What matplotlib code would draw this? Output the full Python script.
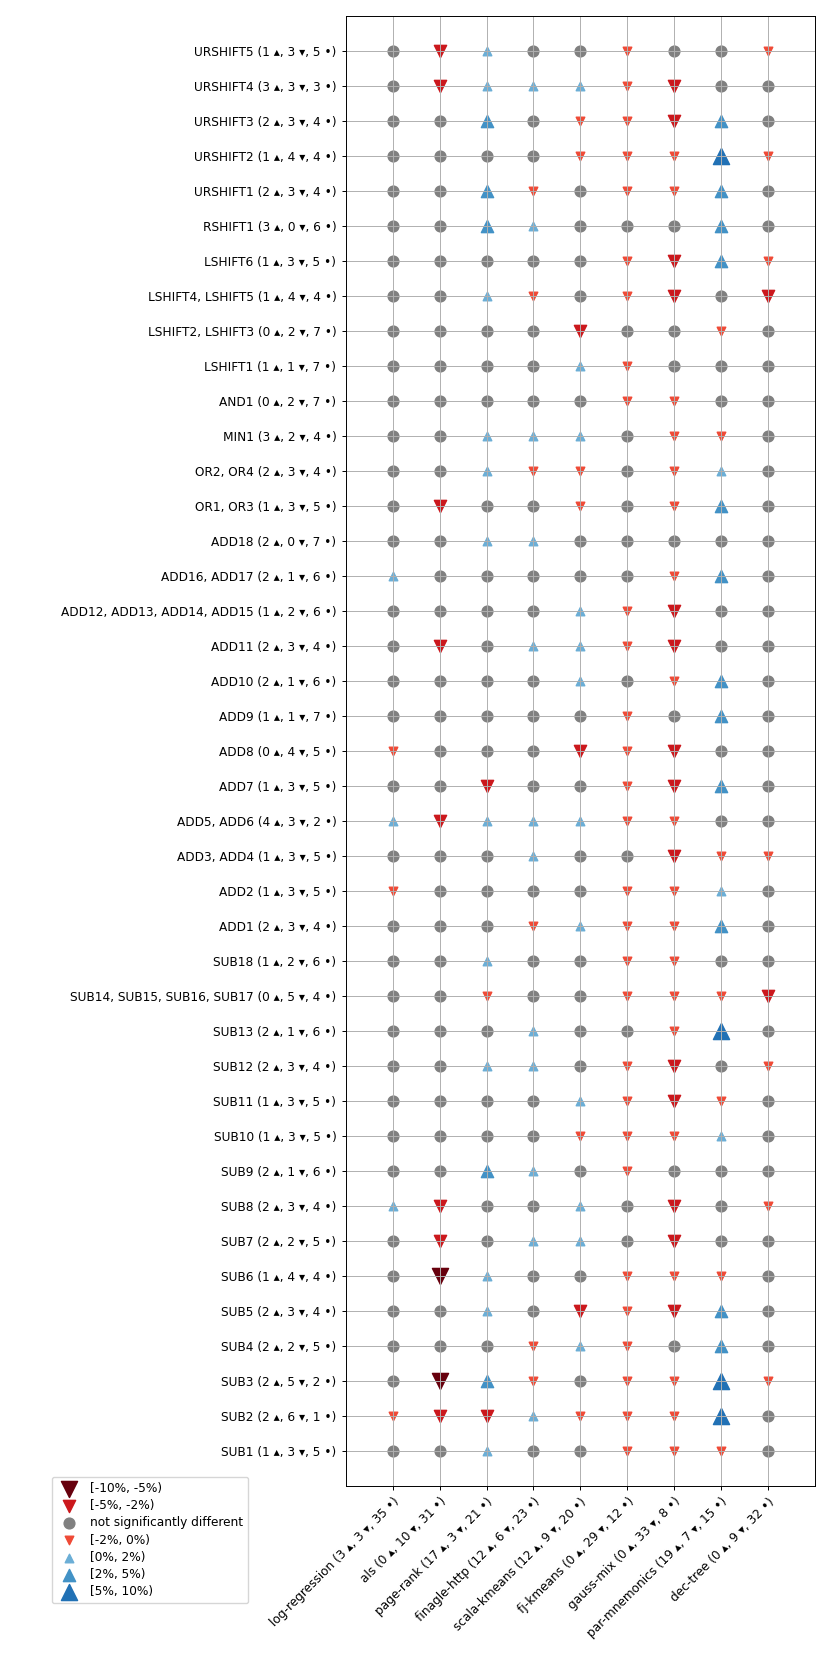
import numpy as np
import matplotlib.pyplot as plt

# === Data ===
benchmarks = ['log-regression', 'als', 'page-rank', 'finagle-http', 'scala-kmeans',
              'fj-kmeans', 'gauss-mix', 'par-mnemonics', 'dec-tree']

variants = ['URSHIFT5', 'URSHIFT4', 'URSHIFT3', 'URSHIFT2', 'URSHIFT1', 'RSHIFT1',
            'LSHIFT6', 'LSHIFT4, LSHIFT5', 'LSHIFT2, LSHIFT3', 'LSHIFT1', 'AND1', 'MIN1',
            'OR2, OR4', 'OR1, OR3', 'ADD18', 'ADD16, ADD17', 'ADD12, ADD13, ADD14, ADD15',
            'ADD11', 'ADD10', 'ADD9', 'ADD8', 'ADD7', 'ADD5, ADD6', 'ADD3, ADD4', 'ADD2',
            'ADD1', 'SUB18', 'SUB14, SUB15, SUB16, SUB17', 'SUB13', 'SUB12', 'SUB11',
            'SUB10', 'SUB9', 'SUB8', 'SUB7', 'SUB6', 'SUB5', 'SUB4', 'SUB3', 'SUB2', 'SUB1']

# change class per cell: -3 [-10%,-5%), -2 [-5%,-2%), -1 [-2%,0%), 0 n.s.,
# 1 [0%,2%), 2 [2%,5%), 3 [5%,10%)
levels = [
    [0, -2, 1, 0, 0, -1, 0, 0, -1],
    [0, -2, 1, 1, 1, -1, -2, 0, 0],
    [0, 0, 2, 0, -1, -1, -2, 2, 0],
    [0, 0, 0, 0, -1, -1, -1, 3, -1],
    [0, 0, 2, -1, 0, -1, -1, 2, 0],
    [0, 0, 2, 1, 0, 0, 0, 2, 0],
    [0, 0, 0, 0, 0, -1, -2, 2, -1],
    [0, 0, 1, -1, 0, -1, -2, 0, -2],
    [0, 0, 0, 0, -2, 0, 0, -1, 0],
    [0, 0, 0, 0, 1, -1, 0, 0, 0],
    [0, 0, 0, 0, 0, -1, -1, 0, 0],
    [0, 0, 1, 1, 1, 0, -1, -1, 0],
    [0, 0, 1, -1, -1, 0, -1, 1, 0],
    [0, -2, 0, 0, -1, 0, -1, 2, 0],
    [0, 0, 1, 1, 0, 0, 0, 0, 0],
    [1, 0, 0, 0, 0, 0, -1, 2, 0],
    [0, 0, 0, 0, 1, -1, -2, 0, 0],
    [0, -2, 0, 1, 1, -1, -2, 0, 0],
    [0, 0, 0, 0, 1, 0, -1, 2, 0],
    [0, 0, 0, 0, 0, -1, 0, 2, 0],
    [-1, 0, 0, 0, -2, -1, -2, 0, 0],
    [0, 0, -2, 0, 0, -1, -2, 2, 0],
    [1, -2, 1, 1, 1, -1, -1, 0, 0],
    [0, 0, 0, 1, 0, 0, -2, -1, -1],
    [-1, 0, 0, 0, 0, -1, -1, 1, 0],
    [0, 0, 0, -1, 1, -1, -1, 2, 0],
    [0, 0, 1, 0, 0, -1, -1, 0, 0],
    [0, 0, -1, 0, 0, -1, -1, -1, -2],
    [0, 0, 0, 1, 0, 0, -1, 3, 0],
    [0, 0, 1, 1, 0, -1, -2, 0, -1],
    [0, 0, 0, 0, 1, -1, -2, -1, 0],
    [0, 0, 0, 0, -1, -1, -1, 1, 0],
    [0, 0, 2, 1, 0, -1, 0, 0, 0],
    [1, -2, 0, 0, 1, 0, -2, 0, -1],
    [0, -2, 0, 1, 1, 0, -2, 0, 0],
    [0, -3, 1, 0, 0, -1, -1, -1, 0],
    [0, 0, 1, 0, -2, -1, -2, 2, 0],
    [0, 0, 0, -1, 1, -1, 0, 2, 0],
    [0, -3, 2, -1, 0, -1, -1, 3, -1],
    [-1, -2, -2, 1, -1, -1, -1, 3, 0],
    [0, 0, 1, 0, 0, -1, -1, -1, 0],
]

legend_labels = {-3: '[-10%, -5%)', -2: '[-5%, -2%)', 0: 'not significantly different',
                 -1: '[-2%, 0%)', 1: '[0%, 2%)', 2: '[2%, 5%)', 3: '[5%, 10%)'}

# === Styles ===
styles = {
    -3: ('v', '#67000d', 135),
    -2: ('v', '#cb181d', 78),
    -1: ('v', '#ef4a36', 38),
    0: ('o', '#808080', 60),
    1: ('^', '#6baed6', 38),
    2: ('^', '#4292c6', 78),
    3: ('^', '#2171b5', 135),
}
draw_order = [-3, -2, 0, -1, 1, 2, 3]

plt.rcParams['font.size'] = 8.7
plt.rcParams['axes.linewidth'] = 0.7
plt.rcParams['grid.linewidth'] = 0.7
plt.rcParams['xtick.major.width'] = 0.7
plt.rcParams['ytick.major.width'] = 0.7
plt.rcParams['xtick.major.size'] = 3.2
plt.rcParams['ytick.major.size'] = 3.2

lv = np.array(levels)


def count_label(name, vals):
    up = int((vals > 0).sum())
    down = int((vals < 0).sum())
    same = int((vals == 0).sum())
    return f"{name} ({up} \u25b4, {down} \u25be, {same} \u2022)"


fig = plt.figure(figsize=(8.3, 16.61), dpi=100)
ax = fig.add_axes([0.4165, 0.1055, 0.982 - 0.4165, 0.9905 - 0.1055])

rows, cols = np.indices(lv.shape)
for lvl in draw_order:
    m, c, s = styles[lvl]
    mask = lv == lvl
    ax.scatter(cols[mask], rows[mask], marker=m, color=c, s=s, label=legend_labels[lvl])

ax.set_xlim(-1, len(benchmarks))
ax.set_ylim(len(variants), -1)
ax.set_xticks(range(len(benchmarks)))
ax.set_xticklabels([count_label(b, lv[:, j]) for j, b in enumerate(benchmarks)],
                   rotation=45, ha='right', rotation_mode='anchor')
ax.set_yticks(range(len(variants)))
ax.set_yticklabels([count_label(v, lv[i]) for i, v in enumerate(variants)])
ax.grid(True)

fig.legend(loc='upper left', bbox_to_anchor=(51.7 / 830, 1 - 1477 / 1661),
           borderaxespad=0, labelspacing=0.35)

fig.savefig('out.png', dpi=100)
